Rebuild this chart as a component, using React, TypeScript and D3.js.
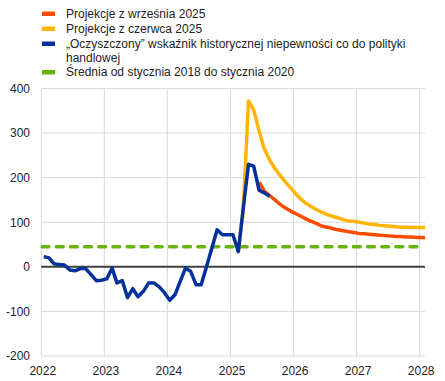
import React from "react";
import * as d3 from "d3";

const W = 445;
const H = 381;

// Monthly series (mid-month observations)
const blueStart = [2022, 0];
const blueValues = [23, 20, 7, 5, 4, -7, -9, -4, -4, -17, -31, -30, -27, -3, -36, -31, -69, -49, -67, -55, -36, -36, -45, -58, -75, -62, -33, -3, -10, -40, -40, 1, 42, 83, 72, 72, 72, 34, 130, 230, 226, 172, 166, 158];

const orangeStart = [2025, 5];
const orangeValues = [190, 170, 160, 150, 140, 132, 125, 119, 113, 107, 102, 97, 91, 89, 86, 83, 81, 79, 77, 75, 74, 73, 72, 71, 70, 69, 68, 68, 67, 67, 66, 66, 65];

const yellowStart = [2025, 1];
const yellowValues = [34, 125, 372, 352, 305, 265, 240, 220, 205, 190, 177, 163, 151, 142, 135, 128, 122, 117, 113, 110, 106, 103, 102, 100, 98, 96, 95, 93, 92, 91, 90, 89, 89, 88, 88, 88, 88];

const averageValue = 45;
const averageRange = [new Date(2022, 0, 6), new Date(2027, 11, 20)];

const yTicks = [-200, -100, 0, 100, 200, 300, 400];
const xTickYears = [2022, 2023, 2024, 2025, 2026, 2027, 2028];

const GREEN = "#66b30a";

const legendItems = [
  { lines: ["Projekcje z września 2025"], color: "#ff4b00" },
  { lines: ["Projekcje z czerwca 2025"], color: "#ffb400" },
  { lines: ["„Oczyszczony” wskaźnik historycznej niepewności co do polityki", "handlowej"], color: "#003299" },
  { lines: ["Średnia od stycznia 2018 do stycznia 2020"], color: GREEN },
];

const toPoints = (start: number[], values: number[]) =>
  values.map((v, i) => ({ date: new Date(start[0], start[1] + i, 15), value: v }));

export default function App() {
  const left = 41.3;
  const right = 425;
  const top = 88.5;
  const bottom = 356;

  const x = d3.scaleTime().domain([new Date(2022, 0, 1), new Date(2028, 1, 1)]).range([left, right]);
  const y = d3.scaleLinear().domain([-200, 400]).range([bottom, top]);

  const line = d3
    .line<{ date: Date; value: number }>()
    .x((d) => x(d.date))
    .y((d) => y(d.value));

  const blue = toPoints(blueStart, blueValues);
  const orange = toPoints(orangeStart, orangeValues);
  const yellow = toPoints(yellowStart, yellowValues);

  const font = "'Liberation Sans', Arial, sans-serif";
  const textColor = "#222";

  const legendTops = [13.5, 28.5, 43.5, 72];
  const legendRows = legendItems.map((item, i) => {
    const cy = legendTops[i];
    return (
      <g key={"lg" + i}>
        <rect x={42} y={cy - 2} width={13} height={4.5} fill={item.color} />
        {item.lines.map((t, j) => (
          <text key={j} x={66} y={cy + 4.2 + j * 14.5} fontSize={12} fill={textColor} fontFamily={font}>
            {t}
          </text>
        ))}
      </g>
    );
  });

  return (
    <div style={{ position: "absolute", left: 0, top: 0 }}>
      <svg width={W} height={H} style={{ display: "block", background: "#fff" }}>
        <defs>
          <clipPath id="plotclip">
            <rect x={left} y={0} width={right - left} height={H} />
          </clipPath>
        </defs>
        {/* grid */}
        {yTicks.map((t) => (
          <line key={"gy" + t} x1={left} x2={right} y1={y(t)} y2={y(t)} stroke="#d9d9d9" strokeWidth={1} />
        ))}
        {xTickYears.map((yr) => (
          <line
            key={"gx" + yr}
            x1={x(new Date(yr, 0, 1))}
            x2={x(new Date(yr, 0, 1))}
            y1={top}
            y2={bottom}
            stroke="#d9d9d9"
            strokeWidth={1}
          />
        ))}
        {/* zero line */}
        <line x1={left} x2={right} y1={y(0)} y2={y(0)} stroke="#404040" strokeWidth={2} />
        {/* average */}
        <line
          x1={x(averageRange[0])}
          x2={x(averageRange[1])}
          y1={y(averageValue)}
          y2={y(averageValue)}
          stroke={GREEN}
          strokeWidth={3.5}
          strokeLinecap="round"
          strokeDasharray="6.8 7.35"
        />
        <g clipPath="url(#plotclip)" fill="none" strokeLinejoin="round">
          <path d={line(yellow) || ""} stroke="#ffb400" strokeWidth={3.5} />
          <path d={line(orange) || ""} stroke="#ff4b00" strokeWidth={3.5} />
          <path d={line(blue) || ""} stroke="#003299" strokeWidth={3.5} />
        </g>
        {/* y labels */}
        {yTicks.map((t) => (
          <text
            key={"ly" + t}
            x={30}
            y={y(t) + 4.3}
            textAnchor="end"
            fontSize={12}
            fill={textColor}
            fontFamily={font}
          >
            {t}
          </text>
        ))}
        {xTickYears.map((yr) => (
          <text
            key={"lx" + yr}
            x={x(new Date(yr, 0, 1)) + 1.5}
            y={375}
            textAnchor="middle"
            fontSize={12}
            fill={textColor}
            fontFamily={font}
          >
            {yr}
          </text>
        ))}
        {legendRows}
      </svg>
    </div>
  );
}
